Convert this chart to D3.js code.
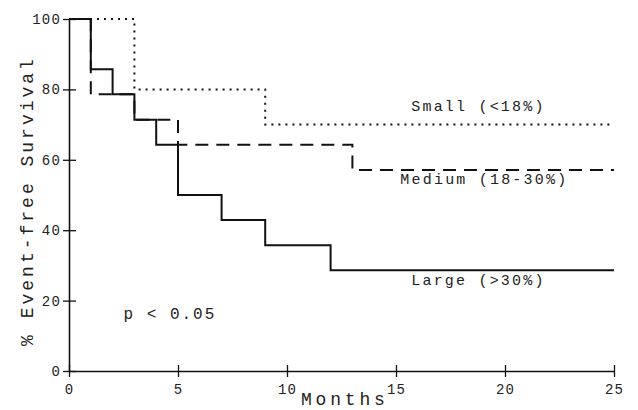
<!DOCTYPE html>
<html>
<head>
<meta charset="utf-8">
<script src="https://cdn.jsdelivr.net/npm/d3@7"></script>
<style>
  body { margin: 0; background: #fff; }
  text { font-family: "Liberation Mono", "DejaVu Sans Mono", monospace; fill: #222; }
</style>
</head>
<body>
<script>
// Kaplan-Meier style step data (months, % event-free)
var smallMonths = [0, 3, 9, 25];
var smallSurv   = [100, 80, 70, 70];
var mediumMonths = [0, 1, 3, 5, 13, 25];
var mediumSurv   = [100, 78.6, 71.4, 64.3, 57.1, 57.1];
var largeMonths = [0, 1, 2, 3, 4, 5, 7, 9, 12, 25];
var largeSurv   = [100, 85.7, 78.6, 71.4, 64.3, 50, 42.9, 35.7, 28.6, 28.6];
var xTicks = [0, 5, 10, 15, 20, 25];
var yTicks = [0, 20, 40, 60, 80, 100];

var margin = {top: 19, right: 24, bottom: 39, left: 69},
    width = 638 - margin.left - margin.right,
    height = 410 - margin.top - margin.bottom;

var svg = d3.select("body").append("svg")
    .attr("width", 638)
    .attr("height", 410)
  .append("g")
    .attr("transform", "translate(" + margin.left + "," + margin.top + ")");

var x = d3.scaleLinear().domain([0, 25]).range([0, width]);
var y = d3.scaleLinear().domain([0, 100]).range([height, 0]);

// axes, ticks cross the axis line
var xAxis = svg.append("g")
    .attr("transform", "translate(0," + height + ")")
    .call(d3.axisBottom(x).tickValues(xTicks).tickSizeOuter(0).tickPadding(4));
xAxis.selectAll(".tick line").attr("y1", -6).attr("y2", 6);

var yAxis = svg.append("g")
    .call(d3.axisLeft(y).tickValues(yTicks).tickSizeOuter(0).tickPadding(2));
yAxis.selectAll(".tick line").attr("x1", 7).attr("x2", -6);

svg.selectAll(".domain").attr("stroke", "#111").attr("stroke-width", 1.6);
svg.selectAll(".tick line").attr("stroke", "#111").attr("stroke-width", 1.3);
svg.selectAll(".tick text")
    .style("font-family", "Liberation Mono, monospace")
    .style("font-size", "14px")
    .style("letter-spacing", "1.2px")
    .attr("fill", "#333");
xAxis.selectAll(".tick text").attr("dy", "0.95em");

var line = d3.line()
    .x(function(d) { return x(d[0]); })
    .y(function(d) { return y(d[1]); })
    .curve(d3.curveStepAfter);

function pairs(m, s) { return m.map(function(v, i) { return [v, s[i]]; }); }

svg.append("path")
    .datum(pairs(smallMonths, smallSurv))
    .attr("d", line)
    .attr("fill", "none")
    .attr("stroke", "#111")
    .attr("stroke-width", 2)
    .attr("stroke-dasharray", "2,5");

svg.append("path")
    .datum(pairs(mediumMonths, mediumSurv))
    .attr("d", line)
    .attr("fill", "none")
    .attr("stroke", "#111")
    .attr("stroke-width", 2)
    .attr("stroke-dasharray", "13,8");

svg.append("path")
    .datum(pairs(largeMonths, largeSurv))
    .attr("d", line)
    .attr("fill", "none")
    .attr("stroke", "#111")
    .attr("stroke-width", 2);

// series labels
var labels = [
  {t: "Small (<18%)", m: 15.7, v: 74},
  {t: "Medium (18-30%)", m: 15.2, v: 53},
  {t: "Large (>30%)", m: 15.7, v: 24.5}
];
svg.selectAll(".lab")
    .data(labels)
  .enter().append("text")
    .attr("class", "lab")
    .attr("x", function(d) { return x(d.m); })
    .attr("y", function(d) { return y(d.v); })
    .style("font-size", "15px")
    .style("letter-spacing", "2.2px")
    .text(function(d) { return d.t; });

svg.append("text")
    .attr("x", x(2.5))
    .attr("y", y(14.8))
    .style("font-size", "16px")
    .style("letter-spacing", "2px")
    .text("p < 0.05");

// axis titles
svg.append("text")
    .attr("x", 232)
    .attr("y", height + 34)
    .style("font-size", "18px")
    .style("letter-spacing", "3.8px")
    .text("Months");

svg.append("text")
    .attr("transform", "translate(" + (33 - margin.left) + "," + (201 - margin.top) + ") rotate(-90)")
    .attr("text-anchor", "middle")
    .style("font-size", "18px")
    .style("letter-spacing", "3px")
    .text("% Event-free Survival");
</script>
</body>
</html>
